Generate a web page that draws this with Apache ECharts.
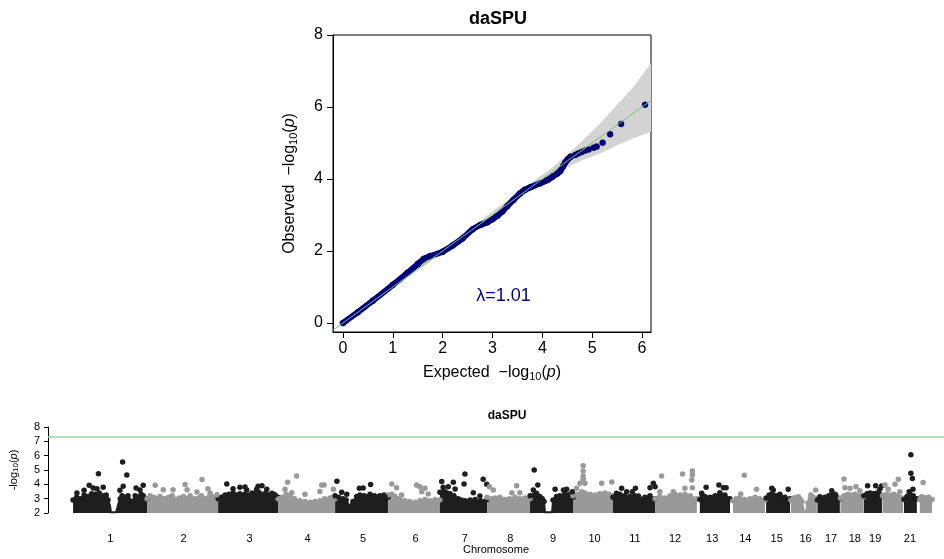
<!DOCTYPE html>
<html>
<head>
<meta charset="utf-8">
<title>daSPU</title>
<script src="https://cdn.jsdelivr.net/npm/echarts@6/dist/echarts.min.js"></script>
<style>
  html, body { margin: 0; padding: 0; background: #fff; }
  #chart { width: 944px; height: 559px; }
</style>
</head>
<body>
<div id="chart"></div>
<script>
// ---- QQ plot data (expected vs observed -log10 p) ----
var qqDense = [[0, 0], [0.3, 0.3], [0.6, 0.62], [1.0, 1.06], [1.3, 1.4], [1.5, 1.64], [1.62, 1.78], [1.75, 1.86],
  [2.0, 1.98], [2.2, 2.15], [2.4, 2.35], [2.6, 2.6], [2.75, 2.72], [2.9, 2.8], [3.0, 2.88], [3.1, 2.98],
  [3.2, 3.1], [3.3, 3.25], [3.42, 3.42], [3.55, 3.6], [3.65, 3.7], [3.76, 3.77], [3.96, 3.88], [4.1, 3.97], [4.2, 4.06],
  [4.3, 4.15], [4.36, 4.22], [4.42, 4.36], [4.46, 4.46], [4.52, 4.56], [4.57, 4.62]];
var qqTail = [[4.66, 4.67], [4.72, 4.71], [4.79, 4.75], [4.86, 4.79], [4.93, 4.82], [5.03, 4.87], [5.09, 4.9],
  [5.21, 5.01], [5.36, 5.24], [5.58, 5.53], [6.06, 6.06]];
var bandExpected = [0, 1, 2, 3, 3.5, 3.82, 4.16, 4.49, 4.82, 5.16, 5.5, 5.83, 6.18];
var bandUpper = [0.02, 1.04, 2.06, 3.1, 3.62, 3.94, 4.27, 4.67, 5.08, 5.55, 6.06, 6.56, 7.22];
var bandLower = [0, 0.97, 1.95, 2.93, 3.42, 3.72, 4.02, 4.33, 4.53, 4.71, 4.94, 5.13, 5.31];
var refLine = [[-0.2, -0.2], [6.18, 6.18]];
var qqTicksX = [0, 1, 2, 3, 4, 5, 6];
var qqTicksY = [0, 2, 4, 6, 8];

// ---- Manhattan data (cumulative Mb, -log10 p) ----
var chrNames = ['1', '2', '3', '4', '5', '6', '7', '8', '9', '10', '11', '12', '13', '14', '15', '16', '17', '18', '19', '20', '21', '22'];
var chrLength = [249, 243, 198, 191, 181, 171, 159, 146, 141, 136, 135, 134, 115, 107, 103, 90, 81, 78, 59, 63, 48, 51];
var chrHiddenLabel = ['20', '22'];
var gwsThreshold = 7.3;

// top of the dense cloud of points for each chromosome
var bodyTop = [
  [[0, 2.9], [12, 3.1], [23, 3.0], [37, 3.25], [50, 3.15], [62, 3.35], [74, 3.3], [88, 3.4], [101, 3.2], [110, 3.1], [117, 2.9], [124, 2.5], [127, 2.05], [144, 2.05], [151, 2.6], [158, 3.0], [164, 3.2], [174, 3.1], [184, 3.2], [198, 2.8], [208, 3.2], [218, 3.1], [228, 3.3], [235, 3.2], [248, 3.0]],
  [[248, 3.0], [258, 3.2], [270, 3.1], [281, 3.0], [291, 3.15], [305, 3.0], [320, 3.1], [332, 3.2], [342, 2.95], [356, 3.05], [370, 3.15], [380, 3.0], [392, 3.2], [405, 3.0], [420, 3.05], [430, 3.2], [442, 3.0], [455, 3.1], [465, 3.15], [476, 3.05], [486, 3.0]],
  [[486, 3.0], [497, 3.1], [509, 3.25], [522, 3.3], [536, 3.4], [548, 3.25], [559, 3.35], [575, 3.3], [590, 3.25], [600, 3.4], [610, 3.35], [622, 3.45], [633, 3.3], [646, 3.4], [660, 3.25], [672, 3.3], [687, 3.1]],
  [[687, 3.0], [700, 3.1], [714, 3.3], [727, 3.2], [742, 3.0], [760, 2.85], [777, 2.8], [794, 2.75], [810, 2.8], [827, 2.85], [843, 3.0], [861, 3.05], [870, 3.1], [878, 3.0]],
  [[878, 3.2], [890, 3.1], [905, 3.0], [915, 2.9], [925, 2.5], [938, 2.8], [950, 3.15], [961, 3.25], [975, 3.2], [995, 3.3], [1010, 3.2], [1028, 3.2], [1042, 3.25], [1055, 3.1]],
  [[1055, 3.25], [1068, 3.3], [1079, 3.15], [1095, 3.0], [1112, 2.85], [1128, 2.8], [1146, 2.75], [1162, 2.85], [1179, 2.95], [1196, 2.85], [1213, 2.95], [1229, 2.9]],
  [[1229, 3.45], [1240, 3.5], [1252, 3.4], [1263, 3.35], [1276, 3.2], [1290, 3.0], [1300, 2.9], [1313, 2.85], [1330, 2.9], [1347, 2.95], [1365, 2.85], [1387, 2.95]],
  [[1387, 3.1], [1400, 3.0], [1414, 3.05], [1430, 3.1], [1447, 2.95], [1462, 3.0], [1481, 3.1], [1497, 3.0], [1514, 3.05], [1531, 3.0]],
  [[1531, 3.2], [1545, 3.25], [1564, 3.15], [1572, 3.0], [1578, 2.8], [1581, 2.05], [1605, 2.05], [1608, 2.9], [1620, 3.15], [1631, 3.2], [1648, 3.25], [1665, 3.3], [1675, 3.1]],
  [[1675, 3.2], [1690, 3.3], [1702, 3.35], [1715, 3.4], [1732, 3.3], [1749, 3.25], [1765, 3.35], [1782, 3.4], [1795, 3.3], [1809, 3.2]],
  [[1809, 3.1], [1820, 3.2], [1832, 3.3], [1848, 3.2], [1866, 3.15], [1882, 3.2], [1899, 3.0], [1916, 3.1], [1933, 3.2], [1950, 3.0]],
  [[1950, 3.0], [1966, 3.15], [1983, 3.05], [2000, 3.2], [2017, 3.3], [2034, 3.25], [2050, 3.3], [2068, 3.2], [2090, 3.0]],
  [[2100, 2.95], [2108, 3.2], [2117, 3.15], [2134, 3.1], [2151, 3.2], [2168, 3.3], [2184, 3.25], [2201, 3.0]],
  [[2211, 2.85], [2222, 3.0], [2234, 3.05], [2250, 2.95], [2268, 3.0], [2285, 3.1], [2301, 3.0], [2318, 2.9]],
  [[2322, 3.05], [2332, 3.25], [2342, 3.35], [2355, 3.2], [2368, 3.2], [2385, 3.1], [2402, 3.0]],
  [[2405, 2.9], [2415, 3.05], [2425, 3.1], [2435, 3.0], [2442, 2.8], [2449, 2.1], [2456, 2.1], [2462, 2.7], [2470, 3.0], [2480, 3.1], [2492, 3.0]],
  [[2494, 2.9], [2506, 3.05], [2519, 3.1], [2532, 3.2], [2543, 3.3], [2556, 3.2], [2569, 3.0]],
  [[2571, 3.05], [2583, 3.2], [2596, 3.3], [2608, 3.25], [2620, 3.3], [2634, 3.2], [2647, 3.1]],
  [[2649, 3.2], [2660, 3.35], [2670, 3.4], [2681, 3.35], [2693, 3.4], [2702, 3.3], [2710, 3.2]],
  [[2712, 3.2], [2725, 3.3], [2737, 3.25], [2750, 3.3], [2760, 3.2], [2771, 3.1], [2781, 3.0]],
  [[2784, 2.95], [2794, 3.15], [2804, 3.3], [2815, 3.2], [2827, 3.0]],
  [[2837, 2.95], [2847, 3.1], [2857, 3.05], [2867, 3.1], [2878, 2.95]]
];

// individual points standing out above the cloud
var peaks = [
  [[13, 3.4], [37, 3.58], [54, 3.93], [67, 3.75], [80, 3.7], [101, 3.8], [111, 3.25], [85, 4.74], [157, 3.58], [166, 5.56], [180, 4.65], [168, 3.86], [211, 3.74], [235, 3.93], [224, 3.6]],
  [[275, 3.93], [302, 3.63], [335, 3.63], [375, 3.98], [382, 3.63], [415, 3.47], [432, 4.33], [452, 3.7], [459, 3.4], [482, 3.28]],
  [[515, 4.02], [536, 3.7], [559, 3.8], [576, 3.81], [582, 3.6], [615, 3.65], [620, 3.86], [633, 3.9], [649, 3.65], [666, 3.37], [677, 3.26]],
  [[710, 3.65], [719, 4.14], [733, 3.42], [749, 4.58], [777, 3.3], [827, 3.5], [833, 3.95], [841, 3.95], [872, 3.65]],
  [[884, 4.22], [900, 3.45], [917, 3.3], [959, 3.72], [972, 3.75], [997, 3.98], [1028, 3.14], [1045, 3.14]],
  [[1068, 4.02], [1084, 3.77], [1101, 3.26], [1151, 3.95], [1162, 3.84], [1168, 3.49], [1179, 3.72], [1190, 3.33]],
  [[1235, 4.19], [1240, 3.79], [1246, 3.49], [1257, 3.84], [1274, 4.14], [1280, 3.67], [1310, 4.02], [1313, 4.72], [1341, 3.42], [1363, 3.19], [1374, 4.35], [1386, 4.0]],
  [[1395, 3.84], [1408, 3.6], [1470, 3.42], [1486, 3.9], [1497, 3.42]],
  [[1542, 3.6], [1545, 5.0], [1553, 3.37], [1557, 3.95], [1615, 3.65], [1643, 3.6], [1648, 3.37], [1654, 3.65], [1673, 3.49]],
  [[1687, 3.72], [1698, 4.07], [1704, 3.49], [1709, 5.3], [1709, 4.93], [1709, 4.58], [1709, 4.35], [1715, 4.07], [1771, 4.07], [1805, 4.16]],
  [[1821, 3.37], [1838, 3.72], [1855, 3.49], [1874, 3.49], [1884, 3.72], [1894, 3.19], [1933, 3.77], [1944, 4.07], [1950, 3.84]],
  [[1966, 3.49], [1972, 4.58], [2011, 3.49], [2042, 4.72], [2050, 3.72], [2073, 4.3], [2075, 4.93], [2075, 4.65], [2075, 3.77]],
  [[2106, 3.37], [2121, 3.79], [2164, 3.95], [2167, 3.42], [2179, 3.77], [2188, 3.77]],
  [[2237, 3.33], [2249, 4.63], [2290, 3.65]],
  [[2341, 3.72], [2346, 3.6], [2368, 3.3], [2396, 3.65]],
  [[2430, 3.14], [2472, 3.26], [2488, 3.6]],
  [[2502, 3.14], [2542, 3.56], [2553, 3.3]],
  [[2583, 4.37], [2586, 3.77], [2603, 3.72], [2623, 3.84], [2636, 3.56]],
  [[2662, 3.9], [2689, 3.9], [2703, 3.65], [2709, 3.88]],
  [[2720, 3.95], [2731, 3.65], [2754, 4.0], [2765, 4.35], [2770, 3.49]],
  [[2801, 3.49], [2807, 6.07], [2807, 4.77], [2812, 4.4], [2814, 3.65]],
  [[2843, 3.14], [2848, 4.12]]
];

var chrColors = ['#1e1e1e', '#999999'];
var FONT = 'Liberation Sans, Arial, Helvetica, sans-serif';

// chromosome centres for labels
var labelByPos = {};
var start = 0;
chrLength.forEach(function (len, i) {
  var c = start + len / 2;
  if (chrHiddenLabel.indexOf(chrNames[i]) < 0) labelByPos[c] = chrNames[i];
  start += len;
});
var labelPositions = Object.keys(labelByPos).map(Number);

var myChart = echarts.init(document.getElementById('chart'), null, { renderer: 'canvas' });

var series = [];

// confidence band
series.push({
  type: 'custom',
  xAxisIndex: 0, yAxisIndex: 0,
  clip: true,
  silent: true,
  data: [[0, 0]],
  renderItem: function (params, api) {
    var pts = [];
    for (var i = 0; i < bandExpected.length; i++) pts.push(api.coord([bandExpected[i], bandUpper[i]]));
    for (var j = bandExpected.length - 1; j >= 0; j--) pts.push(api.coord([bandExpected[j], bandLower[j]]));
    return { type: 'polygon', shape: { points: pts }, style: { fill: '#d3d3d3' } };
  },
  z: 1
});

// dense part of QQ curve
series.push({
  type: 'line',
  xAxisIndex: 0, yAxisIndex: 0,
  data: qqDense,
  symbol: 'none',
  smooth: 0.2,
  lineStyle: { color: '#000080', width: 6, cap: 'round', join: 'round' },
  z: 2
});
series.push({
  type: 'scatter',
  xAxisIndex: 0, yAxisIndex: 0,
  data: qqDense.concat(qqTail),
  symbolSize: 6,
  itemStyle: { color: '#000080', borderColor: '#000040', borderWidth: 0.5, opacity: 1 },
  z: 3
});

// y = x reference
series.push({
  type: 'line',
  xAxisIndex: 0, yAxisIndex: 0,
  data: refLine,
  symbol: 'none',
  lineStyle: { color: '#74c474', width: 1 },
  z: 4
});

// lambda annotation
series.push({
  type: 'scatter',
  xAxisIndex: 0, yAxisIndex: 0,
  data: [[3.22, 0.76]],
  symbolSize: 1,
  itemStyle: { color: 'rgba(0,0,0,0)', opacity: 1 },
  label: { show: true, position: 'inside', formatter: 'λ=1.01', color: '#00008b', fontSize: 18, fontFamily: FONT, opacity: 1 },
  z: 5
});

// Manhattan cloud bodies
bodyTop.forEach(function (pts, i) {
  series.push({
    type: 'line',
    xAxisIndex: 1, yAxisIndex: 1,
    data: pts,
    symbol: 'none',
    clip: true,
    lineStyle: { color: chrColors[i % 2], width: 2, join: 'round' },
    areaStyle: { color: chrColors[i % 2], opacity: 1, origin: 'start' },
    z: 2
  });
});

// dots on the ragged upper edge of the cloud plus the standing-out points
var dotData = [];
bodyTop.forEach(function (pts, i) {
  pts.forEach(function (p) {
    if (p[1] > 2.6) dotData.push({ value: p, itemStyle: { color: chrColors[i % 2] } });
  });
});
peaks.forEach(function (pts, i) {
  pts.forEach(function (p) {
    dotData.push({ value: p, itemStyle: { color: chrColors[i % 2] } });
  });
});
series.push({
  type: 'scatter',
  xAxisIndex: 1, yAxisIndex: 1,
  data: dotData,
  symbolSize: 5.5,
  itemStyle: { opacity: 1 },
  z: 3,
  markLine: {
    silent: true,
    symbol: 'none',
    label: { show: false },
    lineStyle: { color: '#9fd19f', width: 1.5, type: 'solid' },
    data: [{ yAxis: gwsThreshold }]
  }
});

var option = {
  animation: false,
  backgroundColor: '#fff',
  textStyle: { fontFamily: FONT },
  title: [
    { text: 'daSPU', left: 493, top: 5, textAlign: 'center',
      textStyle: { fontSize: 18, fontWeight: 'bold', color: '#000', fontFamily: FONT } },
    { text: 'daSPU', left: 502, top: 405, textAlign: 'center',
      textStyle: { fontSize: 12, fontWeight: 'bold', color: '#000', fontFamily: FONT } }
  ],
  grid: [
    { left: 333, top: 35, width: 318, height: 297, show: true, borderColor: '#000', borderWidth: 1, backgroundColor: 'transparent' },
    { left: 48, top: 427, width: 896, height: 86 }
  ],
  xAxis: [
    {
      type: 'value', gridIndex: 0, min: -0.2, max: 6.18,
      axisLine: { show: true, onZero: false, lineStyle: { color: '#000' } },
      axisTick: { show: true, length: 6, customValues: qqTicksX, lineStyle: { color: '#000' } },
      axisLabel: { customValues: qqTicksX, fontSize: 16, color: '#000', margin: 9, fontFamily: FONT },
      splitLine: { show: false },
      name: '{t|Expected  −log}{s|10}{t|(}{i|p}{t|)}',
      nameLocation: 'middle', nameGap: 31,
      nameTextStyle: {
        rich: {
          t: { fontSize: 16, color: '#000', fontFamily: FONT },
          s: { fontSize: 11, color: '#000', fontFamily: FONT, padding: [8, 0, 0, 0] },
          i: { fontSize: 16, color: '#000', fontStyle: 'italic', fontFamily: FONT }
        }
      }
    },
    {
      type: 'value', gridIndex: 1, min: -84, max: 2918,
      axisLine: { show: false },
      axisTick: { show: false },
      axisLabel: {
        customValues: labelPositions, fontSize: 11, color: '#000', margin: 20, fontFamily: FONT,
        formatter: function (v) { return labelByPos[v] || ''; }
      },
      splitLine: { show: false },
      name: 'Chromosome', nameLocation: 'middle', nameGap: 30,
      nameTextStyle: { fontSize: 11, color: '#000', fontFamily: FONT }
    }
  ],
  yAxis: [
    {
      type: 'value', gridIndex: 0, min: -0.25, max: 8,
      axisLine: { show: true, onZero: false, lineStyle: { color: '#000' } },
      axisTick: { show: true, length: 6, customValues: qqTicksY, lineStyle: { color: '#000' } },
      axisLabel: { customValues: qqTicksY, fontSize: 16, color: '#000', margin: 10, fontFamily: FONT },
      splitLine: { show: false },
      name: '{t|Observed  −log}{s|10}{t|(}{i|p}{t|)}',
      nameLocation: 'middle', nameGap: 34, nameRotate: 90,
      nameTextStyle: {
        rich: {
          t: { fontSize: 16, color: '#000', fontFamily: FONT },
          s: { fontSize: 11, color: '#000', fontFamily: FONT, padding: [8, 0, 0, 0] },
          i: { fontSize: 16, color: '#000', fontStyle: 'italic', fontFamily: FONT }
        }
      }
    },
    {
      type: 'value', gridIndex: 1, min: 2, max: 8, interval: 1,
      axisLine: { show: true, onZero: false, lineStyle: { color: '#000' } },
      axisTick: { show: true, length: 4, lineStyle: { color: '#000' } },
      axisLabel: { fontSize: 11, color: '#000', margin: 8, fontFamily: FONT },
      splitLine: { show: false },
      name: '{t|-log}{s|10}{t|(}{i|p}{t|)}',
      nameLocation: 'middle', nameGap: 28, nameRotate: 90,
      nameTextStyle: {
        rich: {
          t: { fontSize: 11, color: '#000', fontFamily: FONT },
          s: { fontSize: 8, color: '#000', fontFamily: FONT, padding: [5, 0, 0, 0] },
          i: { fontSize: 11, color: '#000', fontStyle: 'italic', fontFamily: FONT }
        }
      }
    }
  ],
  series: series
};

myChart.setOption(option);

window.addEventListener('resize', function () {
  myChart.resize();
});
</script>
</body>
</html>
